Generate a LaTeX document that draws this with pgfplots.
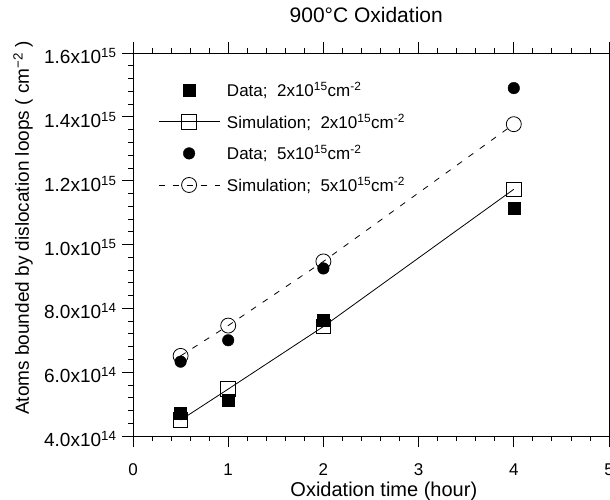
\documentclass[border=0pt]{standalone}
\usepackage{fontspec}
\setmainfont{Liberation Sans}
\usepackage{pgfplots}
\pgfplotsset{compat=1.18}
\begin{document}
\begin{tikzpicture}
\useasboundingbox (-133pt,-63pt) rectangle (477pt,436pt);
\begin{axis}[
  at={(0pt,0pt)}, anchor=south west,
  scale only axis, width=476pt, height=383pt,
  xmin=0, xmax=5, ymin=4e14, ymax=1.6e15,
  xtick={0,1,2,3,4,5},
  ytick={4e14,6e14,8e14,1e15,1.2e15,1.4e15,1.6e15},
  yticklabels={4.0x10\textsuperscript{14},6.0x10\textsuperscript{14},8.0x10\textsuperscript{14},
    1.0x10\textsuperscript{15},1.2x10\textsuperscript{15},1.4x10\textsuperscript{15},1.6x10\textsuperscript{15}},
  minor x tick num=4, minor y tick num=4,
  tick align=outside,
  xtick pos=both, ytick pos=left,
  major tick length=11pt, minor tick length=5pt,
  tick style={black, line width=0.8pt},
  axis line style={line width=0.9pt},
  scaled y ticks=false,
  /pgf/number format/assume math mode=true,
  xticklabel style={font=\fontsize{17}{17}\selectfont, yshift=-13pt},
  yticklabel style={font=\fontsize{19}{19}\selectfont, xshift=-2pt, yshift=-3pt},
  title={900°C Oxidation},
  title style={font=\fontsize{21}{21}\selectfont, at={(axis description cs:0.49,1)}, anchor=base, yshift=24pt},
  xlabel={Oxidation time (hour)},
  xlabel style={font=\fontsize{20}{20}\selectfont, at={(axis description cs:0.527,0)}, anchor=base, yshift=-60pt},
  ylabel={Atoms bounded by dislocation loops ( cm\textsuperscript{−2} )},
  ylabel style={font=\fontsize{19}{19}\selectfont, at={(axis description cs:-0.231,0.543)}, anchor=center},
  legend image code/.code={\draw[mark repeat=2, mark phase=2, #1] plot coordinates {(0pt,0pt) (30.5pt,0pt) (61pt,0pt)};},
  legend style={draw=none, fill=none, at={(axis description cs:0,1)}, anchor=north west,
    xshift=22pt, yshift=-25pt, font=\fontsize{17}{17}\selectfont, row sep=11.5pt,
    cells={anchor=west}, /tikz/every odd column/.append style={column sep=5pt}},
  clip=false,
]
\addplot[only marks, mark=square*, mark size=6pt, black] coordinates {
  (0.5,4.73e14) (1,5.13e14) (2,7.63e14) (4,1.113e15)};
\addlegendentry{Data;\ \ 2x10\textsuperscript{15}cm\textsuperscript{-2}}
\addplot[black, line width=0.8pt, mark=square, mark size=7.3pt, mark options={solid, line width=0.8pt}] coordinates {
  (0.5,4.5e14) (1,5.47e14) (2,7.43e14) (4,1.173e15)};
\addlegendentry{Simulation;\ \ 2x10\textsuperscript{15}cm\textsuperscript{-2}}
\addplot[only marks, mark=*, mark size=5.8pt, black] coordinates {
  (0.5,6.33e14) (1,7.0e14) (2,9.25e14) (4,1.49e15)};
\addlegendentry{Data;\ \ 5x10\textsuperscript{15}cm\textsuperscript{-2}}
\addplot[black, line width=0.8pt, dash pattern=on 6pt off 8pt, mark=o, mark size=7.5pt, mark options={solid, line width=0.8pt}] coordinates {
  (0.5,6.51e14) (1,7.46e14) (2,9.47e14) (4,1.377e15)};
\addlegendentry{Simulation;\ \ 5x10\textsuperscript{15}cm\textsuperscript{-2}}
\end{axis}
\end{tikzpicture}
\end{document}
